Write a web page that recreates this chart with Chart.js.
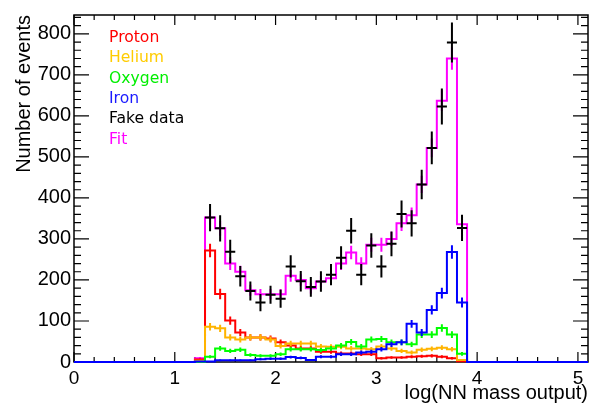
<!DOCTYPE html>
<html>
<head>
<meta charset="utf-8">
<script src="https://cdn.jsdelivr.net/npm/chart.js@4.4.0/dist/chart.umd.min.js"></script>
<style>
  html, body { margin: 0; padding: 0; background: #fff; }
</style>
</head>
<body>
<canvas id="chart" width="594" height="407"></canvas>
<script>
// histogram bins: 0.1 wide from 0 to 5.1, filled bins start at 1.2
const nBins = 51;
const firstFilled = 12;

// contents of bins 1.2 .. 3.8
const proton = [6, 272, 166, 101, 72, 60, 60, 57, 48, 40, 33, 33, 25, 25, 21, 21, 19, 19, 9, 11, 11, 13, 14, 15, 13, 9, 2];
const helium = [3, 86, 82, 60, 55, 60, 60, 55, 39, 45, 45, 45, 38, 37, 37, 33, 33, 31, 38, 33, 27, 23, 30, 32, 35, 31, 5];
const oxygen = [0, 13, 33, 27, 30, 17, 15, 15, 19, 31, 31, 31, 29, 33, 40, 49, 38, 55, 56, 48, 48, 43, 67, 67, 83, 67, 20];
const iron   = [1, 1, 4, 4, 4, 4, 7, 8, 8, 12, 10, 5, 13, 13, 19, 19, 23, 25, 31, 43, 48, 93, 72, 127, 168, 268, 145];
const fit    = [9, 352, 326, 240, 220, 175, 165, 165, 165, 210, 200, 180, 196, 204, 240, 267, 240, 286, 286, 300, 338, 358, 433, 522, 637, 740, 336];

// fake data, bins 1.3 .. 3.8
const fakeData = [352, 326, 269, 209, 173, 145, 164, 154, 233, 197, 183, 196, 213, 254, 320, 213, 284, 233, 288, 361, 338, 433, 522, 623, 779, 327];
const fakeErr  = [33, 32, 29, 25, 23, 21, 22, 22, 27, 25, 24, 25, 26, 28, 31, 26, 30, 27, 30, 33, 32, 36, 40, 44, 49, 32];

const legendLabels = ['Proton', 'Helium', 'Oxygen', 'Iron', 'Fake data', 'Fit'];
const legendColors = ['#ff0000', '#ffcc00', '#00ee00', '#1a1aff', '#000000', '#ff00ff'];

function histPoints(vals) {
  const pts = [];
  for (let i = 0; i < nBins; i++) {
    const k = i - firstFilled;
    pts.push({ x: i / 10, y: (k >= 0 && k < vals.length) ? vals[k] : 0 });
  }
  pts.push({ x: nBins / 10, y: pts[pts.length - 1].y });
  return pts;
}

function histo(label, vals, color) {
  return {
    label: label, data: histPoints(vals), borderColor: color, borderWidth: 2,
    pointRadius: 0, stepped: 'before', fill: false, clip: false, errKind: 'hist'
  };
}

const dataPoints = fakeData.map((v, j) => ({ x: (firstFilled + 1 + j) / 10 + 0.05, y: v }));

// error bars: sqrt(N) on templates, read-off bars on fake data
const errorBars = {
  id: 'errorBars',
  afterDatasetDraw(chart, args) {
    const ds = chart.data.datasets[args.index];
    const { ctx, scales: { x, y } } = chart;
    ctx.save();
    ctx.strokeStyle = ds.borderColor;
    ctx.lineWidth = 2;
    ctx.beginPath();
    if (ds.errKind === 'hist') {
      ds.data.slice(0, nBins).forEach(p => {
        if (p.y <= 0) return;
        const cx = x.getPixelForValue(p.x + 0.05);
        const e = Math.sqrt(p.y);
        ctx.moveTo(cx, y.getPixelForValue(p.y - e));
        ctx.lineTo(cx, y.getPixelForValue(p.y + e));
      });
    } else if (ds.errKind === 'data') {
      ds.data.forEach((p, j) => {
        const cx = x.getPixelForValue(p.x);
        const cy = y.getPixelForValue(p.y);
        ctx.moveTo(cx, y.getPixelForValue(p.y - fakeErr[j]));
        ctx.lineTo(cx, y.getPixelForValue(p.y + fakeErr[j]));
        ctx.moveTo(x.getPixelForValue(p.x - 0.05), cy);
        ctx.lineTo(x.getPixelForValue(p.x + 0.05), cy);
      });
    }
    ctx.stroke();
    ctx.restore();
  }
};

// ROOT style frame with inward ticks on all four sides
const frame = {
  id: 'frame',
  beforeDatasetsDraw(chart) {
    const { ctx, chartArea: a, scales: { x, y } } = chart;
    ctx.save();
    ctx.strokeStyle = '#000';
    ctx.lineWidth = 1.5;
    ctx.strokeRect(a.left, a.top, a.right - a.left, a.bottom - a.top);
    ctx.lineWidth = 1.2;
    ctx.beginPath();
    for (let i = 0; i <= 25; i++) {
      const px = x.getPixelForValue(i * 0.2);
      const len = i % 5 === 0 ? 10 : 5;
      ctx.moveTo(px, a.bottom); ctx.lineTo(px, a.bottom - len);
      ctx.moveTo(px, a.top); ctx.lineTo(px, a.top + len);
    }
    for (let v = 0; v <= 840; v += 20) {
      const py = y.getPixelForValue(v);
      const len = v % 100 === 0 ? 15 : 7;
      ctx.moveTo(a.left, py); ctx.lineTo(a.left + len, py);
      ctx.moveTo(a.right, py); ctx.lineTo(a.right - len, py);
    }
    ctx.stroke();
    ctx.restore();
  }
};

const legendText = {
  id: 'legendText',
  afterDraw(chart) {
    const ctx = chart.ctx;
    ctx.save();
    ctx.font = '15.6px "DejaVu Sans"';
    ctx.textBaseline = 'alphabetic';
    ctx.textAlign = 'left';
    legendLabels.forEach((t, i) => {
      ctx.fillStyle = legendColors[i];
      ctx.fillText(t, 109, 42 + 20.3 * i);
    });
    ctx.restore();
  }
};

const family = '"Liberation Sans", Arial, sans-serif';

new Chart(document.getElementById('chart'), {
  type: 'line',
  data: {
    datasets: [
      histo('Iron', iron, '#0000ff'),
      histo('Oxygen', oxygen, '#00ff00'),
      histo('Helium', helium, '#ffb400'),
      histo('Proton', proton, '#ff0000'),
      { label: 'Fake data', data: dataPoints, borderColor: '#000000', showLine: false,
        pointRadius: 0, clip: false, errKind: 'data' },
      histo('Fit', fit, '#ff00ff')
    ]
  },
  options: {
    responsive: false,
    animation: false,
    devicePixelRatio: 1,
    events: [],
    layout: { padding: { top: 13, right: 6, left: 0, bottom: 0 } },
    plugins: { legend: { display: false }, tooltip: { enabled: false } },
    scales: {
      x: {
        type: 'linear', min: 0, max: 5.1,
        grid: { display: false, drawTicks: false }, border: { display: false },
        ticks: { stepSize: 1, includeBounds: false, padding: 5, color: '#000', font: { family, size: 19 }, maxRotation: 0 },
        title: { display: true, text: 'log(NN mass output)', align: 'end', color: '#000', font: { family, size: 20 }, padding: { top: 0, bottom: 2 } },
        afterFit: s => { s.height = 45; }
      },
      y: {
        min: 0, max: 846,
        grid: { display: false, drawTicks: false }, border: { display: false },
        ticks: { stepSize: 100, includeBounds: false, padding: 3, color: '#000', font: { family, size: 20 } },
        title: { display: true, text: 'Number of events', align: 'end', color: '#000', font: { family, size: 20 }, padding: { top: 12, bottom: 0 } },
        afterFit: s => { s.width = 74; }
      }
    }
  },
  plugins: [frame, errorBars, legendText]
});
</script>
</body>
</html>
